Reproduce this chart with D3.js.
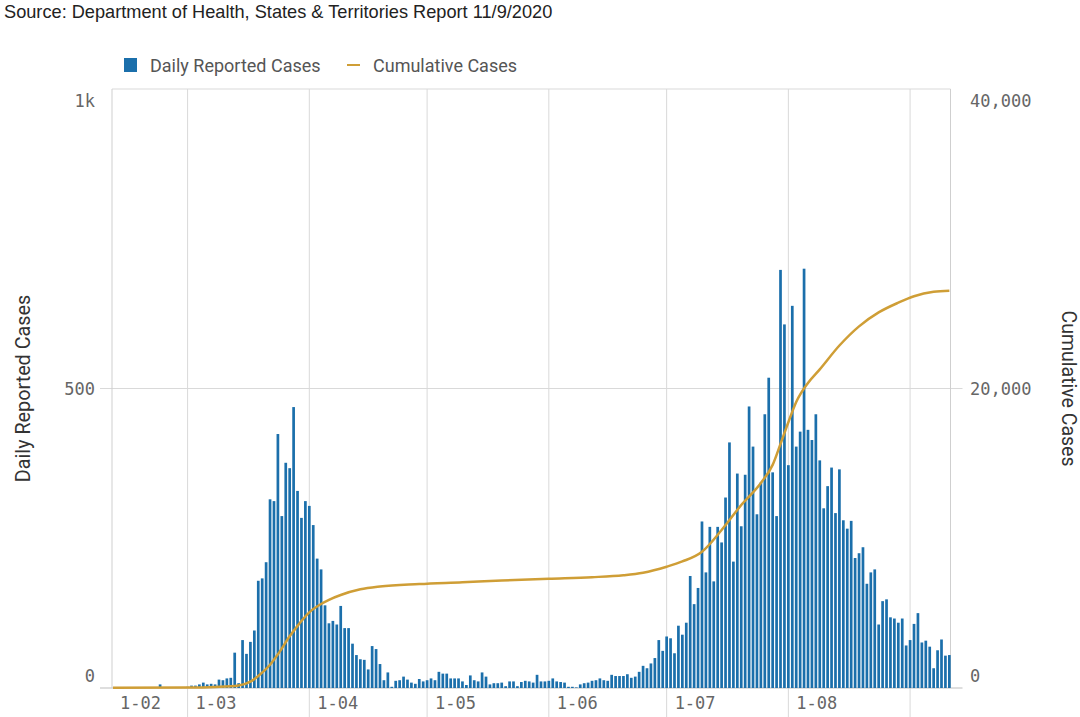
<!DOCTYPE html>
<html><head><meta charset="utf-8">
<script src="https://cdn.jsdelivr.net/npm/d3@7"></script>
<style>
html,body{margin:0;padding:0;background:#fff;}
svg{display:block;}
</style></head><body>
<svg id="chart" width="1080" height="717"></svg>
<script>
// ---------------- data ----------------
const sourceNote = "Source: Department of Health, States & Territories Report 11/9/2020";
const seriesNames = ["Daily Reported Cases", "Cumulative Cases"];
const firstDay = "2020-02-11";
const lastDay = "2020-09-11";
// daily reported cases, one per day starting at firstDay
const dailyCases = [
  // Feb 11 - Feb 29
  0,0,0,0,0,0,0,0,0,0,0,0,6,0,0,0,0,0,0,
  // Mar
  2,4,4,6,9,6,7,6,14,13,16,17,59,8,80,57,77,96,179,183,210,315,312,424,287,376,367,469,329,284,312,
  // Apr
  304,272,216,198,138,108,112,106,137,100,100,74,55,48,47,31,70,65,40,13,26,2,12,13,19,14,9,7,15,11,
  // May
  13,16,13,27,24,24,16,16,16,11,5,21,13,11,26,19,6,8,8,9,3,11,11,3,10,12,11,9,22,11,11,
  // Jun
  12,16,11,10,9,2,2,1,6,8,9,12,13,16,13,12,22,20,20,20,23,17,19,27,37,33,41,50,80,62,
  // Jul
  86,83,58,104,89,109,187,140,167,278,193,269,178,269,243,318,410,211,358,270,356,470,403,290,343,457,518,360,287,698,607,
  // Aug
  372,638,403,428,700,431,414,457,380,300,337,368,292,365,280,266,279,217,225,235,174,193,198,106,145,148,118,116,109,116,71,
  // Sep 1 - Sep 11
  80,107,125,76,79,69,33,63,81,54,55
];
// cumulative cases
const cumulativeDates = ["2020-02-11","2020-03-01","2020-03-08","2020-03-14","2020-03-17","2020-03-19","2020-03-22","2020-03-24","2020-03-27","2020-03-29","2020-04-01","2020-04-04","2020-04-06","2020-04-09","2020-04-14","2020-04-19","2020-04-29","2020-05-10","2020-05-20","2020-06-01","2020-06-12","2020-06-20","2020-06-25","2020-07-01","2020-07-05","2020-07-10","2020-07-15","2020-07-20","2020-07-25","2020-07-28","2020-07-30","2020-08-01","2020-08-03","2020-08-06","2020-08-09","2020-08-14","2020-08-19","2020-08-24","2020-08-29","2020-09-02","2020-09-07","2020-09-11"];
const cumulativeValues = [15,30,70,170,420,800,1550,2250,3450,4150,5050,5610,5890,6210,6590,6780,6940,7060,7180,7300,7400,7530,7700,8100,8450,9100,10550,12220,13690,14900,16300,17750,19100,20370,21280,22870,24150,25080,25730,26160,26460,26530];
const leftTicks = [0, 500, 1000];
const leftTickLabels = ["0", "500", "1k"];
const rightTicks = [0, 20000, 40000];
const rightTickLabels = ["0", "20,000", "40,000"];
const monthStarts = ["2020-02-01","2020-03-01","2020-04-01","2020-05-01","2020-06-01","2020-07-01","2020-08-01","2020-09-01"];
const monthLabels = ["1-02","1-03","1-04","1-05","1-06","1-07","1-08",""];

// ---------------- drawing ----------------
const parse = d3.timeParse("%Y-%m-%d");
const barColor = "#1b6fab";
const lineColor = "#cf9e36";
const gridColor = "#d9d9d9";
const tickFont = "'DejaVu Sans Mono', monospace";
const textFont = "Roboto, 'Liberation Sans', sans-serif";

const plot = {left: 112, right: 950.5, top: 89, bottom: 688};
const d0 = parse(firstDay), d1 = parse(lastDay);
const x = d3.scaleTime()
  .domain([d3.timeHour.offset(d0, -6), d3.timeHour.offset(d1, 7)])
  .range([plot.left, plot.right]);
const yL = d3.scaleLinear().domain([0, 1000]).range([plot.bottom, plot.top]);
const yR = d3.scaleLinear().domain([0, 40000]).range([plot.bottom, plot.top]);

const svg = d3.select("#chart");

svg.append("text").attr("x", 4).attr("y", 18)
  .attr("font-family", "'Liberation Sans', Arial, sans-serif").attr("font-size", 18.2)
  .attr("fill", "#222").text(sourceNote);

// legend
const lg = svg.append("g").attr("font-family", textFont).attr("font-size", 18).attr("fill", "#555");
lg.append("rect").attr("x", 124).attr("y", 58).attr("width", 13).attr("height", 14).attr("fill", barColor);
lg.append("text").attr("x", 150).attr("y", 65).attr("dominant-baseline", "central").text(seriesNames[0]);
lg.append("line").attr("x1", 347).attr("x2", 360).attr("y1", 65).attr("y2", 65)
  .attr("stroke", lineColor).attr("stroke-width", 2);
lg.append("text").attr("x", 373).attr("y", 65).attr("dominant-baseline", "central").text(seriesNames[1]);

// vertical month gridlines
const months = monthStarts.map(parse);
svg.append("g").selectAll("line").data(months.filter(m => x(m) > plot.left + 1)).join("line")
  .attr("x1", d => x(d)).attr("x2", d => x(d))
  .attr("y1", plot.top).attr("y2", 717)
  .attr("stroke", gridColor).attr("stroke-width", 1);

// horizontal gridlines
svg.append("g").selectAll("line").data(leftTicks).join("line")
  .attr("x1", d => d === 1000 ? plot.left : plot.left - 12)
  .attr("x2", d => d === 1000 ? plot.right : plot.right + 12)
  .attr("y1", d => yL(d)).attr("y2", d => yL(d))
  .attr("stroke", d => d === 0 ? "#bdbdbd" : gridColor).attr("stroke-width", 1);

// axis lines
svg.append("line").attr("x1", plot.left).attr("x2", plot.left).attr("y1", plot.top).attr("y2", plot.bottom)
  .attr("stroke", "#cfcfcf");
svg.append("line").attr("x1", plot.right).attr("x2", plot.right).attr("y1", plot.top).attr("y2", plot.bottom)
  .attr("stroke", "#cfcfcf");

// bars
const days = dailyCases.map((v, i) => ({date: d3.timeDay.offset(d0, i), v}));
const bw = 2.7;
svg.append("g").selectAll("rect").data(days).join("rect")
  .attr("x", d => x(d.date) - bw / 2).attr("width", bw)
  .attr("y", d => yL(d.v)).attr("height", d => yL(0) - yL(d.v))
  .attr("fill", barColor);

// cumulative line
const cum = cumulativeDates.map((s, i) => ({date: parse(s), v: cumulativeValues[i]}));
svg.append("path").datum(cum)
  .attr("d", d3.line().x(d => x(d.date)).y(d => yR(d.v)).curve(d3.curveMonotoneX))
  .attr("fill", "none").attr("stroke", lineColor).attr("stroke-width", 2.5);

// tick labels
const tickPos = (v, scale) => {
  const y = scale(v);
  if (y <= plot.top + 1) return y + 12;
  if (y >= plot.bottom - 1) return y - 12;
  return y;
};
svg.append("g").attr("font-family", tickFont).attr("font-size", 17).attr("fill", "#666")
  .selectAll("text").data(leftTicks).join("text")
  .attr("x", 95).attr("y", d => tickPos(d, yL)).attr("text-anchor", "end")
  .attr("dominant-baseline", "central").text((d, i) => leftTickLabels[i]);
svg.append("g").attr("font-family", tickFont).attr("font-size", 17).attr("fill", "#666")
  .selectAll("text").data(rightTicks).join("text")
  .attr("x", 970).attr("y", d => tickPos(d, yR)).attr("text-anchor", "start")
  .attr("dominant-baseline", "central").text((d, i) => rightTickLabels[i]);

// month labels
svg.append("g").attr("font-family", tickFont).attr("font-size", 17).attr("fill", "#666")
  .selectAll("text").data(months).join("text")
  .attr("x", d => Math.max(x(d), plot.left) + 8).attr("y", 703)
  .attr("dominant-baseline", "central").text((d, i) => monthLabels[i]);

// axis titles
svg.append("text").attr("transform", `translate(23,${(plot.top + plot.bottom) / 2}) rotate(-90)`)
  .attr("text-anchor", "middle").attr("dominant-baseline", "central")
  .attr("font-family", textFont).attr("font-size", 19.8).attr("fill", "#333").text(seriesNames[0]);
svg.append("text").attr("transform", `translate(1068,${(plot.top + plot.bottom) / 2}) rotate(90)`)
  .attr("text-anchor", "middle").attr("dominant-baseline", "central")
  .attr("font-family", textFont).attr("font-size", 19.5).attr("fill", "#333").text(seriesNames[1]);
</script>
</body></html>
